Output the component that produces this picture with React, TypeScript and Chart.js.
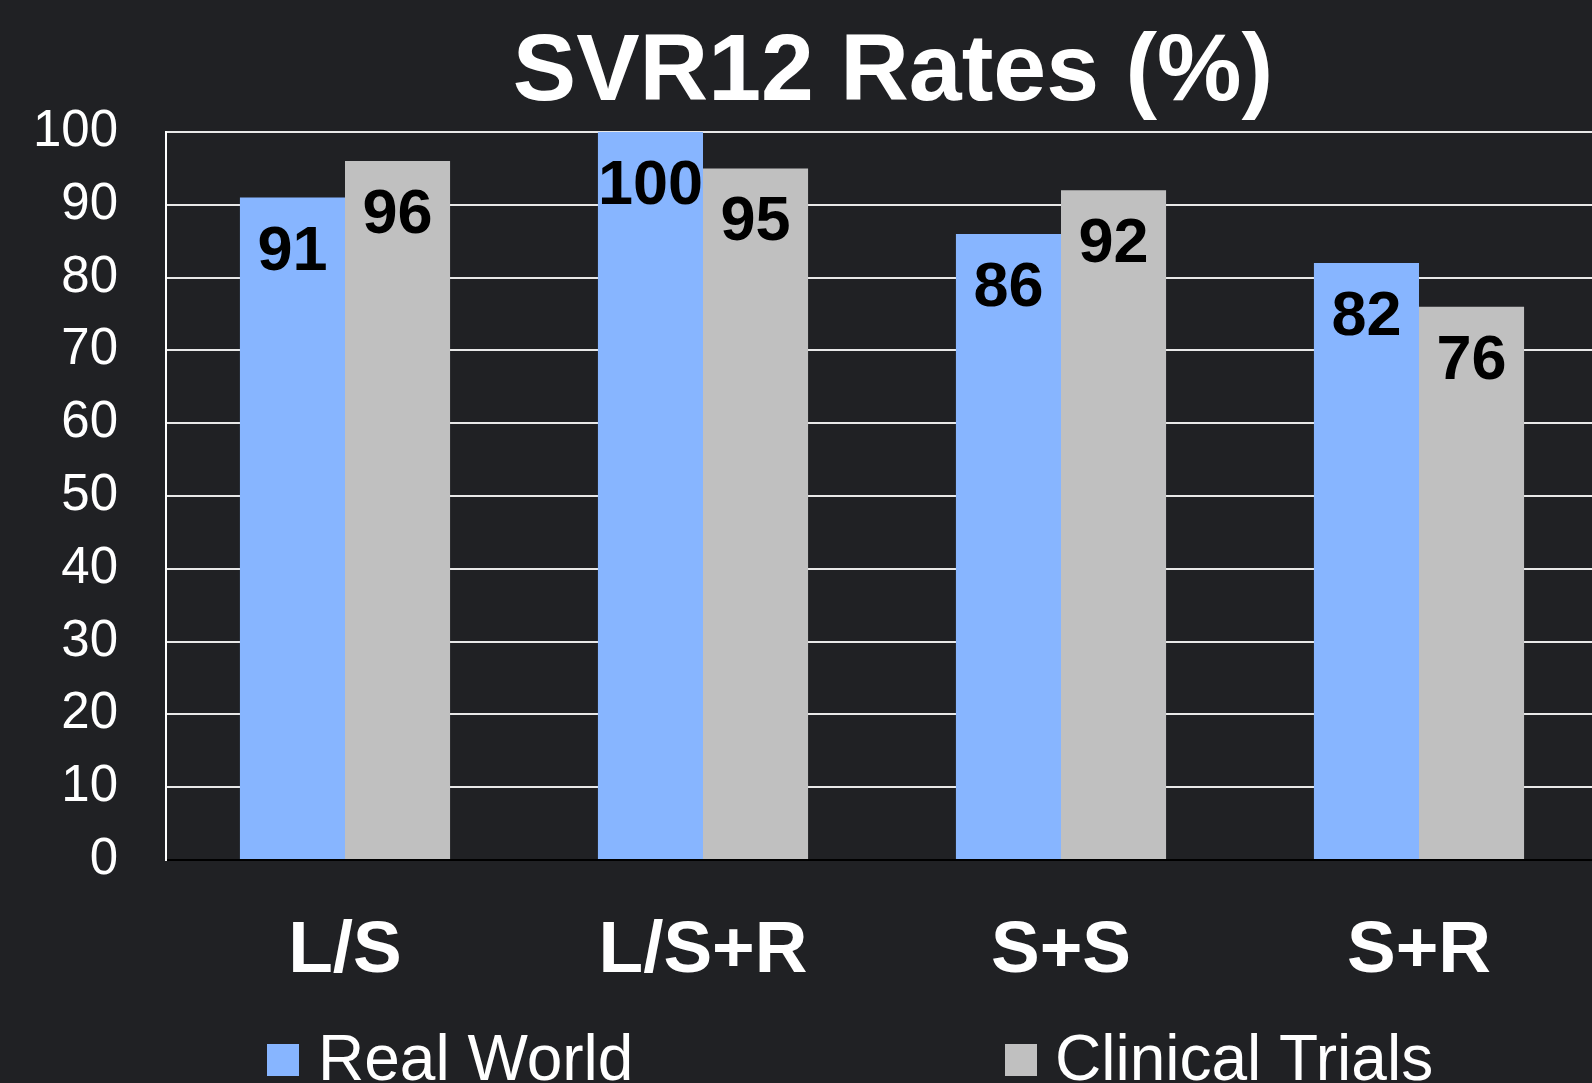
import React, { useEffect, useRef } from "react";
import { Chart, registerables } from "chart.js";

Chart.register(...registerables);

const chartTitle = "SVR12 Rates (%)";
const categories = ["L/S", "L/S+R", "S+S", "S+R"];
const seriesNames = ["Real World", "Clinical Trials"];
const realWorld = [91, 100, 86, 82];
const clinicalTrials = [96, 95, 92, 76];
const yMin = 0;
const yMax = 100;
const yStep = 10;

const BG = "#202124";
const BLUE = "#87B5FF";
const GRAY = "#C0C0C0";
const FONT = "'Liberation Sans', Arial, sans-serif";

const bgPlugin = {
  id: "bg",
  beforeDraw(chart: any) {
    const { ctx, width, height } = chart;
    ctx.save();
    ctx.fillStyle = BG;
    ctx.fillRect(0, 0, width, height);
    ctx.restore();
  },
};

const titlePlugin = {
  id: "customTitle",
  afterDraw(chart: any) {
    const { ctx } = chart;
    ctx.save();
    ctx.fillStyle = "#ffffff";
    ctx.font = `bold 95px ${FONT}`;
    ctx.textAlign = "center";
    ctx.textBaseline = "alphabetic";
    ctx.fillText(chartTitle, 893, 100);
    ctx.restore();
  },
};

const valueLabelPlugin = {
  id: "valueLabels",
  afterDatasetsDraw(chart: any) {
    const { ctx } = chart;
    ctx.save();
    ctx.fillStyle = "#000000";
    ctx.font = `bold 63px ${FONT}`;
    ctx.textAlign = "center";
    ctx.textBaseline = "alphabetic";
    chart.data.datasets.forEach((ds: any, di: number) => {
      const meta = chart.getDatasetMeta(di);
      meta.data.forEach((bar: any, i: number) => {
        ctx.fillText(String(ds.data[i]), bar.x, bar.y + 72);
      });
    });
    ctx.restore();
  },
};

const legendPlugin = {
  id: "customLegend",
  afterDraw(chart: any) {
    const { ctx } = chart;
    const boxX = [267, 1005];
    const textX = [318, 1055];
    ctx.save();
    ctx.font = `64px ${FONT}`;
    ctx.textAlign = "left";
    ctx.textBaseline = "alphabetic";
    chart.data.datasets.forEach((ds: any, i: number) => {
      ctx.fillStyle = ds.backgroundColor;
      ctx.fillRect(boxX[i], 1044, 32, 32);
      ctx.fillStyle = "#ffffff";
      ctx.fillText(ds.label, textX[i], 1080);
    });
    ctx.restore();
  },
};

export default function App() {
  const canvasRef = useRef<HTMLCanvasElement | null>(null);

  useEffect(() => {
    const canvas = canvasRef.current;
    if (!canvas) return;
    const chart = new Chart(canvas, {
      type: "bar",
      data: {
        labels: categories,
        datasets: [
          {
            label: seriesNames[0],
            data: realWorld,
            backgroundColor: BLUE,
            borderWidth: 0,
            categoryPercentage: 0.587,
            barPercentage: 1,
          },
          {
            label: seriesNames[1],
            data: clinicalTrials,
            backgroundColor: GRAY,
            borderWidth: 0,
            categoryPercentage: 0.587,
            barPercentage: 1,
          },
        ],
      },
      options: {
        responsive: false,
        animation: false,
        devicePixelRatio: 1,
        layout: { padding: { top: 132, right: 0, bottom: 0, left: 0 } },
        plugins: {
          legend: { display: false },
          title: { display: false },
          tooltip: { enabled: false },
        },
        scales: {
          x: {
            grid: { display: false },
            border: { display: true, color: "#000000", width: 2 },
            ticks: {
              color: "#ffffff",
              font: { family: FONT, size: 73, weight: "bold" },
              padding: 40,
              maxRotation: 0,
            },
            afterFit: (scale: any) => {
              scale.height = 223;
            },
          },
          y: {
            min: yMin,
            max: yMax,
            grid: { color: "#e8e8e8", lineWidth: 2, drawTicks: false },
            border: { display: true, color: "#ffffff", width: 2 },
            ticks: {
              stepSize: yStep,
              color: "#ffffff",
              font: { family: FONT, size: 51 },
              padding: 48,
            },
            afterFit: (scale: any) => {
              scale.width = 166;
            },
          },
        },
      },
      plugins: [bgPlugin, valueLabelPlugin, titlePlugin, legendPlugin],
    });
    return () => chart.destroy();
  }, []);

  return (
    <div
      style={{
        position: "fixed",
        left: 0,
        top: 0,
        width: 1592,
        height: 1083,
        overflow: "hidden",
        background: BG,
      }}
    >
      <canvas ref={canvasRef} width={1598} height={1083} style={{ display: "block" }} />
    </div>
  );
}
